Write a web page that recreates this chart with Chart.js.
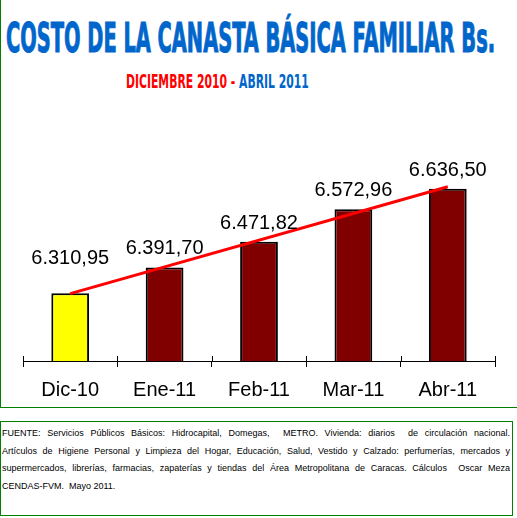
<!DOCTYPE html>
<html>
<head>
<meta charset="utf-8">
<script src="https://cdn.jsdelivr.net/npm/chart.js@4.4.1/dist/chart.umd.min.js"></script>
<style>
  html, body { margin: 0; padding: 0; background: #fff; }
  body { width: 517px; height: 518px; position: relative; overflow: hidden; font-family: "Liberation Sans", Arial, sans-serif; }
  #frame { position: absolute; left: 0; top: 0; width: 530px; height: 408px; box-sizing: border-box;
           border-left: 1px solid #008000; border-bottom: 1px solid #008000; }
  .fit { position: absolute; white-space: nowrap; transform-origin: 0 0; }
  #title { left: 6px; top: 18px; font: bold 40px/40px "Liberation Sans Narrow", "DejaVu Sans", sans-serif;
           font-stretch: condensed; color: #0066CC; -webkit-text-stroke: 1px #0066CC; }
  #subtitle { left: 126px; top: 72px; font: bold 19px/19px "Liberation Sans Narrow", "DejaVu Sans", sans-serif;
              font-stretch: condensed; }
  #subtitle .red { color: #FF0000; }
  #subtitle .blue { color: #0066CC; }
  #chartBox { position: absolute; left: 0; top: 120px; width: 517px; height: 297px; }
  #source { position: absolute; left: 0; top: 421px; width: 513px; height: 95px; box-sizing: border-box;
            border: 1px solid #008000; padding: 3px 2px 0 1px; font: 9px/17.7px "Liberation Sans", Arial, sans-serif; color: #000; }
  #source div { text-align: justify; text-align-last: justify; white-space: pre-wrap; }
  #source div.last { text-align-last: left; }
</style>
</head>
<body>
<div id="frame"></div>
<div id="title" class="fit" data-w="489">COSTO DE LA CANASTA BÁSICA FAMILIAR Bs.</div>
<div id="subtitle" class="fit" data-w="183"><span class="red">DICIEMBRE 2010 - </span><span class="blue">ABRIL 2011</span></div>
<div id="chartBox"><canvas id="canastaChart"></canvas></div>
<div id="source">
  <div>FUENTE: Servicios Públicos Básicos: Hidrocapital, Domegas,  METRO. Vivienda: diarios  de circulación nacional.</div>
  <div>Artículos de Higiene Personal y Limpieza del Hogar, Educación, Salud, Vestido y Calzado: perfumerías, mercados y</div>
  <div>supermercados, librerías, farmacias, zapaterías y tiendas del Área Metropolitana de Caracas. Cálculos  Oscar Meza</div>
  <div class="last">CENDAS-FVM.  Mayo 2011.</div>
</div>
<script>
const months = ['Dic-10', 'Ene-11', 'Feb-11', 'Mar-11', 'Abr-11'];
const costs = [6310.95, 6391.70, 6471.82, 6572.96, 6636.50];
const barColors = ['#FFFF00', '#800000', '#800000', '#800000', '#800000'];
// tendencia lineal: extremos
const trend = [6310, null, null, null, 6643];
const yMin = 6100;
const yMax = 6700;

function fmt(v) {
  const parts = v.toFixed(2).split('.');
  return parts[0].replace(/\B(?=(\d{3})+(?!\d))/g, '.') + ',' + parts[1];
}

document.querySelectorAll('.fit').forEach(el => {
  const target = parseFloat(el.dataset.w);
  el.style.transform = 'scaleX(' + (target / el.offsetWidth) + ')';
});

const valueLabels = {
  id: 'valueLabels',
  afterDatasetsDraw(chart, args, opts) {
    const ctx = chart.ctx;
    const meta = chart.getDatasetMeta(0);
    ctx.save();
    ctx.font = '20px "Liberation Sans", Arial, sans-serif';
    ctx.fillStyle = '#000';
    ctx.textAlign = 'center';
    ctx.textBaseline = 'alphabetic';
    meta.data.forEach((bar, i) => {
      const off = i === 0 ? opts.firstOffset : opts.offset;
      ctx.fillText(fmt(costs[i]), bar.x, bar.y - off);
    });
    ctx.restore();
  }
};

// marcas del eje que cruzan la linea base
const crossTicks = {
  id: 'crossTicks',
  afterDraw(chart) {
    const x = chart.scales.x;
    const ctx = chart.ctx;
    ctx.save();
    ctx.strokeStyle = '#000';
    ctx.lineWidth = 1;
    ctx.beginPath();
    for (let i = 0; i <= months.length; i++) {
      const px = Math.round(x.getPixelForValue(i - 0.5)) + 0.5;
      ctx.moveTo(px, x.top - 5);
      ctx.lineTo(px, x.top);
    }
    ctx.stroke();
    ctx.restore();
  }
};

Chart.defaults.font.family = '"Liberation Sans", Arial, sans-serif';
Chart.defaults.color = '#000';

new Chart(document.getElementById('canastaChart'), {
  data: {
    labels: months,
    datasets: [{
      type: 'bar',
      data: costs,
      backgroundColor: barColors,
      borderColor: '#000',
      borderWidth: 2,
      borderSkipped: false,
      barPercentage: 0.4,
      categoryPercentage: 1,
      order: 1
    }, {
      type: 'line',
      data: trend,
      borderColor: '#FF0000',
      borderWidth: 3,
      pointRadius: 0,
      spanGaps: true,
      order: 0
    }]
  },
  options: {
    responsive: true,
    maintainAspectRatio: false,
    animation: false,
    layout: { padding: { top: 48.5, left: 23, right: 22, bottom: 4 } },
    plugins: {
      legend: { display: false },
      tooltip: { enabled: false },
      valueLabels: { offset: 13, firstOffset: 29 }
    },
    scales: {
      x: {
        offset: true,
        grid: { display: true, drawOnChartArea: false, offset: true, color: '#000', tickLength: 6 },
        border: { color: '#000', width: 1 },
        ticks: { font: { size: 20 }, padding: 11, color: '#000' }
      },
      y: { display: false, min: yMin, max: yMax }
    }
  },
  plugins: [valueLabels, crossTicks]
});
</script>
</body>
</html>
